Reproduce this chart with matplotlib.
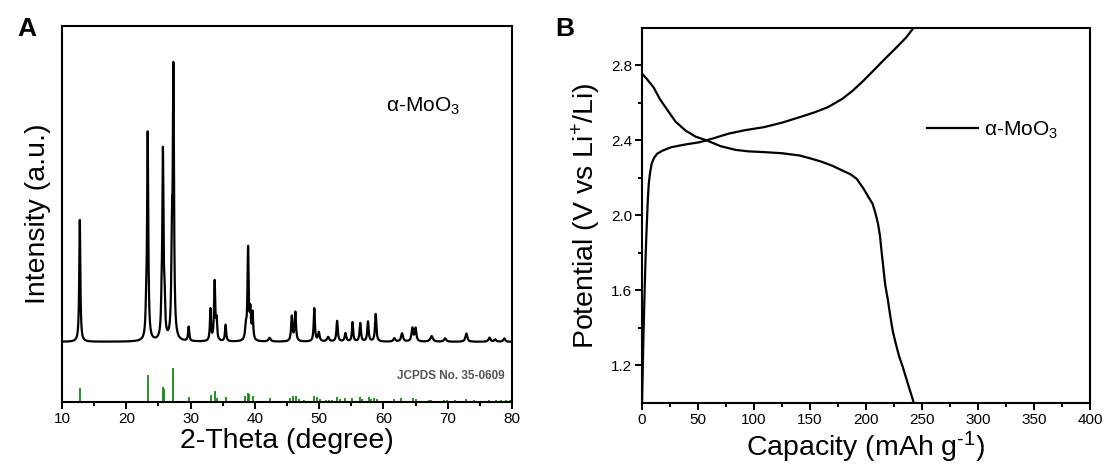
import numpy as np
import matplotlib.pyplot as plt
import matplotlib as mpl

mpl.rcParams['font.family'] = ['Liberation Sans', 'DejaVu Sans']
mpl.rcParams['mathtext.fontset'] = 'custom'
mpl.rcParams['mathtext.rm'] = 'Liberation Sans'
mpl.rcParams['mathtext.it'] = 'Liberation Sans:italic'
mpl.rcParams['mathtext.bf'] = 'Liberation Sans:bold'

# ---- XRD pattern (panel A), peaks ----
xrd_baseline = 16.0
peak_pos = [12.77, 23.10, 23.33, 25.50, 25.70, 25.95, 27.10, 27.33, 29.70,
            33.10, 33.75, 34.05, 35.45, 38.60, 38.95, 39.30, 39.65, 42.30,
            45.75, 46.30, 49.25, 49.95, 51.40, 52.80, 54.10, 55.20, 56.40,
            57.60, 58.80, 61.70, 62.90, 64.50, 65.00, 67.50, 69.60, 72.90,
            76.50, 77.40, 78.80]
peak_top = [48.4, 22.0, 70.8, 22.0, 65.0, 24.0, 40.0, 86.3, 19.8,
            24.4, 31.7, 21.0, 20.4, 19.5, 40.4, 23.0, 23.1, 17.0,
            22.6, 23.7, 24.8, 18.4, 17.2, 21.5, 18.2, 21.1, 20.9,
            21.3, 23.3, 16.9, 18.2, 19.5, 19.5, 17.5, 16.9, 18.2,
            17.1, 16.6, 16.9]
peak_fwhm = [0.20, 0.20, 0.22, 0.20, 0.22, 0.20, 0.20, 0.22, 0.22,
             0.20, 0.22, 0.20, 0.22, 0.25, 0.22, 0.20, 0.22, 0.40,
             0.25, 0.25, 0.22, 0.30, 0.40, 0.25, 0.30, 0.22, 0.25,
             0.25, 0.25, 0.35, 0.35, 0.30, 0.30, 0.45, 0.40, 0.35,
             0.35, 0.35, 0.35]

# JCPDS No. 35-0609 reference lines
ref_pos = [12.77, 23.33, 25.70, 25.90, 27.33, 29.70, 33.12, 33.73, 34.10, 35.50,
           38.50, 38.97, 39.15, 39.65, 42.35, 45.40, 45.95, 46.35, 46.80, 47.70,
           49.25, 49.65, 50.20, 51.10, 51.60, 52.00, 52.80, 53.20, 54.10, 55.10,
           56.40, 56.70, 57.70, 58.10, 58.60, 59.00, 61.70, 62.80, 64.60, 65.00,
           67.10, 67.40, 69.40, 69.90, 71.20, 72.90, 74.10, 76.50, 77.50, 78.30,
           79.00, 79.70]
ref_int = [3.7, 7.3, 3.9, 3.4, 9.0, 1.2, 1.8, 2.8, 1.0, 1.2,
           1.5, 2.4, 2.0, 1.5, 1.0, 1.0, 1.5, 1.6, 0.8, 0.5,
           1.7, 1.4, 0.8, 0.6, 0.6, 0.6, 1.4, 0.8, 1.0, 1.0,
           1.3, 0.8, 1.3, 0.8, 1.1, 0.8, 0.8, 1.0, 1.0, 0.9,
           0.5, 0.5, 0.5, 0.5, 0.4, 0.8, 0.4, 0.4, 0.4, 0.4,
           0.4, 0.4]

# ---- charge/discharge (panel B) ----
dis_cap = [0, 4, 10.2, 16, 22.9, 30, 38.8, 48, 57.9, 70, 83.4, 95, 108.8, 125,
           140.6, 150, 159.7, 170, 178.8, 186, 191.6, 197.9, 202, 205.9, 208.5,
           210.7, 212.5, 213.8, 215.5, 217, 219.5, 221.8, 224, 226.6, 229.5,
           232.9, 237.5, 242.5]
dis_v = [2.756, 2.73, 2.684, 2.62, 2.56, 2.50, 2.453, 2.42, 2.40, 2.37, 2.35,
         2.342, 2.338, 2.332, 2.32, 2.305, 2.288, 2.265, 2.24, 2.22, 2.196,
         2.142, 2.10, 2.062, 2.01, 1.956, 1.89, 1.813, 1.72, 1.636, 1.55,
         1.458, 1.38, 1.316, 1.25, 1.191, 1.10, 1.004]
chg_cap = [0, 0.7, 1.3, 2.1, 2.9, 3.7, 4.5, 5.2, 6.0, 7.2, 8.6, 10.5, 13.4, 18,
           26, 38, 51.6, 64, 77, 92, 108.8, 125, 140.6, 154, 166.1, 178.8, 188,
           197.9, 207, 217, 227, 236.1, 241.8, 243]
chg_v = [1.0, 1.2, 1.369, 1.55, 1.724, 1.87, 1.99, 2.09, 2.169, 2.23, 2.276,
         2.305, 2.329, 2.345, 2.364, 2.378, 2.391, 2.412, 2.436, 2.455, 2.471,
         2.495, 2.524, 2.55, 2.578, 2.622, 2.665, 2.72, 2.775, 2.836, 2.895,
         2.951, 2.996, 3.005]

sample_name = 'α-MoO$_3$'


def style_axes(ax):
    for s in ax.spines.values():
        s.set_linewidth(1.5)
    ax.tick_params(which='both', direction='out', width=1.4, labelsize=11,
                   top=False, right=False, pad=2)
    ax.tick_params(which='major', length=5)
    ax.tick_params(which='minor', length=2.8)


fig = plt.figure(figsize=(11.11, 4.75), dpi=100)

# panel A
axA = fig.add_axes([0.0558, 0.1537, 0.405, 0.7916])
tt = np.linspace(10, 80, 14001)
intensity = np.full_like(tt, xrd_baseline)
for p, h, w in zip(peak_pos, peak_top, peak_fwhm):
    g = w / 2.0
    intensity += (h - xrd_baseline) * g ** 2 / ((tt - p) ** 2 + g ** 2)
axA.plot(tt, intensity, color='black', lw=1.6)
axA.vlines(ref_pos, 0, ref_int, color='#158a15', lw=1.3)
axA.set_xlim(10, 80)
axA.set_ylim(0, 100)
axA.set_yticks([])
axA.set_xticks(np.arange(10, 81, 10))
axA.set_xticks(np.arange(15, 80, 10), minor=True)
style_axes(axA)
axA.set_xlabel('2-Theta (degree)', fontsize=20.5, labelpad=2)
axA.set_ylabel('Intensity (a.u.)', fontsize=20.5, labelpad=8)
axA.text(60.4, 78.5, sample_name, fontsize=15, va='center', ha='left')
axA.text(78.8, 6.9, 'JCPDS No. 35-0609', fontsize=8.5, fontweight='bold',
         color='#555555', ha='right', va='center')

# panel B
axB = fig.add_axes([0.5779, 0.1516, 0.4032, 0.7895])
axB.plot(dis_cap, dis_v, color='black', lw=1.6, label=sample_name)
axB.plot(chg_cap, chg_v, color='black', lw=1.6)
axB.set_xlim(0, 400)
axB.set_ylim(1.0, 3.0)
axB.set_xticks(np.arange(0, 401, 50))
axB.set_xticks(np.arange(25, 400, 50), minor=True)
axB.set_yticks([1.2, 1.6, 2.0, 2.4, 2.8])
axB.set_yticks([1.4, 1.8, 2.2, 2.6], minor=True)
style_axes(axB)
axB.set_xlabel(r'Capacity (mAh g$^{\text{-1}}$)', fontsize=20.5, labelpad=2)
axB.set_ylabel(r'Potential (V vs Li$^{+}$/Li)', fontsize=20.5, labelpad=6)
axB.legend(loc='center left', bbox_to_anchor=(0.637, 0.727), frameon=False,
           fontsize=15, handlelength=2.45, handletextpad=0.25,
           borderpad=0, borderaxespad=0)

fig.text(0.016, 0.94, 'A', fontsize=19, fontweight='bold', va='center')
fig.text(0.500, 0.94, 'B', fontsize=19, fontweight='bold', va='center')

fig.savefig('out.png', dpi=100)
